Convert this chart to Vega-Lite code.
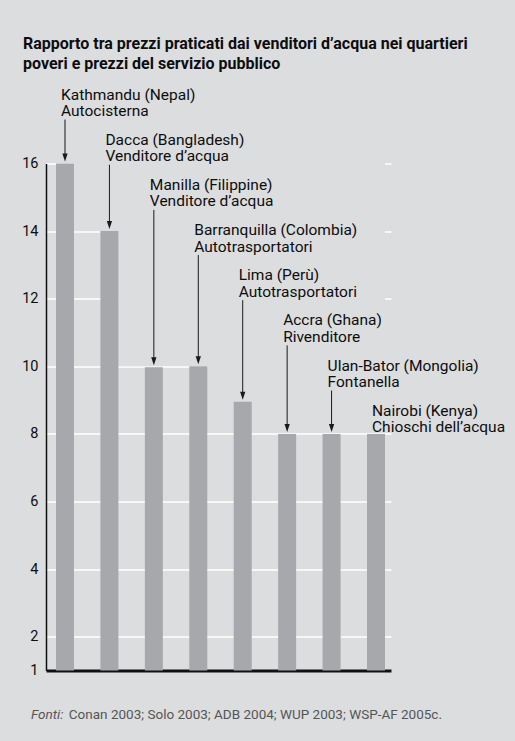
{
  "$schema": "https://vega.github.io/schema/vega-lite/v6.json",
  "autosize": {"type": "none"},
  "width": 345,
  "height": 507,
  "padding": {"left": 46, "top": 163.5, "right": 124, "bottom": 70.5},
  "background": "#dcdddf",
  "config": {"view": {"stroke": null}, "font": "Roboto"},
  "title": {
    "text": ["Rapporto tra prezzi praticati dai venditori d’acqua nei quartieri", "poveri e prezzi del servizio pubblico"],
    "anchor": "start",
    "frame": "group",
    "dx": -23,
    "offset": 16,
    "font": "Roboto",
    "fontSize": 16,
    "fontWeight": "bold",
    "lineHeight": 20,
    "color": "#0d0d0d"
  },
  "data": {
    "values": [
      {"rank": 1, "city": "Kathmandu (Nepal)", "kind": "Autocisterna", "value": 16},
      {"rank": 2, "city": "Dacca (Bangladesh)", "kind": "Venditore d’acqua", "value": 14},
      {"rank": 3, "city": "Manilla (Filippine)", "kind": "Venditore d’acqua", "value": 9.97},
      {"rank": 4, "city": "Barranquilla (Colombia)", "kind": "Autotrasportatori", "value": 10},
      {"rank": 5, "city": "Lima (Perù)", "kind": "Autotrasportatori", "value": 8.95},
      {"rank": 6, "city": "Accra (Ghana)", "kind": "Rivenditore", "value": 8},
      {"rank": 7, "city": "Ulan-Bator (Mongolia)", "kind": "Fontanella", "value": 8},
      {"rank": 8, "city": "Nairobi (Kenya)", "kind": "Chioschi dell’acqua", "value": 8}
    ]
  },
  "encoding": {
    "x": {
      "field": "city",
      "type": "nominal",
      "sort": {"field": "rank", "op": "min", "order": "ascending"},
      "scale": {"paddingInner": 0.595, "paddingOuter": 0.18, "align": 0.625},
      "axis": {
        "title": "Fonti:",
        "labels": false,
        "ticks": false,
        "grid": false,
        "domainColor": "#111111",
        "domainWidth": 3,
        "titleX": -15.5,
        "titleY": 47.5,
        "titleAlign": "left",
        "titleAnchor": null,
        "titleBaseline": "alphabetic",
        "titleFont": "Roboto",
        "titleFontStyle": "italic",
        "titleFontWeight": "normal",
        "titleFontSize": 13.5,
        "titleColor": "#555555"
      }
    }
  },
  "layer": [
    {
      "transform": [{"filter": "datum.value < 16"}],
      "mark": {"type": "bar", "color": "#dcdddf", "width": 44.4, "xOffset": -13.2, "yOffset": -1},
      "encoding": {
        "y": {
          "field": "value",
          "type": "quantitative",
          "scale": {"domain": [1, 16], "nice": false, "zero": false},
          "axis": {
            "values": [1, 2, 4, 6, 8, 10, 12, 14, 16],
            "title": "Conan 2003; Solo 2003; ADB 2004; WUP 2003; WSP-AF 2005c.",
            "titleAngle": 0,
            "titleX": 22.3,
            "titleY": 554.5,
            "titleAlign": "left",
            "titleAnchor": null,
            "titleBaseline": "alphabetic",
            "titleFont": "Roboto",
            "titleFontWeight": "normal",
            "titleFontSize": 13.5,
            "titleColor": "#555555",
            "grid": true,
            "gridColor": "#ffffff",
            "gridWidth": 1.5,
            "gridOpacity": 1,
            "ticks": false,
            "domainColor": "#111111",
            "domainWidth": 1.5,
            "labelFont": "Roboto",
            "labelFontSize": 14.5,
            "labelColor": "#0d0d0d",
            "labelPadding": 8
          }
        },
        "y2": {"datum": 16.3}
      }
    },
    {
      "mark": {"type": "bar", "color": "#a7a8ab"},
      "encoding": {
        "y": {"field": "value", "type": "quantitative"},
        "y2": {"datum": 1}
      }
    },
    {
      "transform": [
        {"filter": "datum.rank < 8"},
        {"calculate": "17.30 - 1.336 * (datum.rank - 1)", "as": "arrowTop"}
      ],
      "mark": {"type": "rule", "color": "#1a1a1a", "strokeWidth": 1, "y2Offset": -8},
      "encoding": {
        "y": {"field": "arrowTop", "type": "quantitative"},
        "y2": {"field": "value"}
      }
    },
    {
      "transform": [{"filter": "datum.rank < 8"}],
      "mark": {"type": "point", "shape": "M-0.33,-1L0.33,-1L0,0Z", "size": 256, "filled": true, "color": "#1a1a1a", "opacity": 1, "yOffset": -2},
      "encoding": {
        "y": {"field": "value", "type": "quantitative"}
      }
    },
    {
      "transform": [{"calculate": "17.89 - 1.336 * (datum.rank - 1)", "as": "labelY"}],
      "mark": {"type": "text", "align": "left", "baseline": "alphabetic", "dx": -4, "font": "Roboto", "fontSize": 15.5, "color": "#0d0d0d"},
      "encoding": {
        "y": {"field": "labelY", "type": "quantitative"},
        "text": {"field": "city"}
      }
    },
    {
      "transform": [{"calculate": "17.89 - 1.336 * (datum.rank - 1)", "as": "labelY"}],
      "mark": {"type": "text", "align": "left", "baseline": "alphabetic", "dx": -4, "dy": 16.5, "font": "Roboto", "fontSize": 15.5, "color": "#0d0d0d"},
      "encoding": {
        "y": {"field": "labelY", "type": "quantitative"},
        "text": {"field": "kind"}
      }
    }
  ]
}
